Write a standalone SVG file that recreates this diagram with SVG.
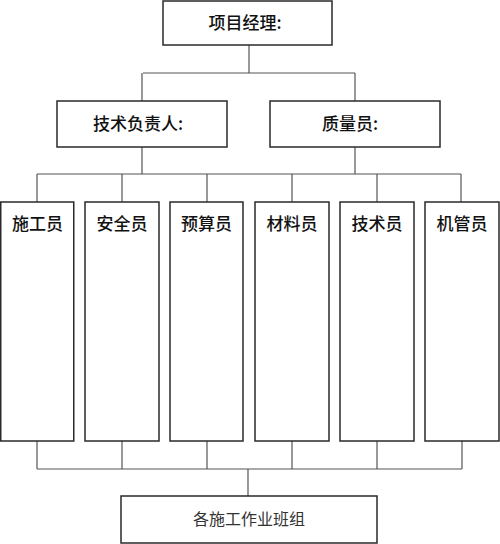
<svg xmlns="http://www.w3.org/2000/svg" width="500" height="544" viewBox="0 0 500 544">
<style>
.box{fill:#fff;stroke:#2a2a2a;stroke-width:1.5}
.conn{fill:none;stroke:#555;stroke-width:1.2}
.t{font-family:"Noto Sans CJK SC","Noto Sans",sans-serif;font-size:17px;fill:#111;text-anchor:middle;font-weight:500}
.tb{font-family:"Noto Sans CJK SC","Noto Sans",sans-serif;font-size:16px;fill:#333;text-anchor:middle;font-weight:400}
</style>
<rect width="500" height="544" fill="#fff"/>
<g id="connectors">
<path class="conn" d="M249 45V73M143 73H355M142 73V101M355 73V101"/>
<path class="conn" d="M142 147V174M355 147V174M37 174H461M37 174V202M122 174V202M207 174V202M292 174V202M377 174V202M461 174V202"/>
<path class="conn" d="M37 441V469M122 441V469M207 441V469M292 441V469M377 441V469M462 441V469M37 469H462M248 469V496"/>
</g>
<g id="pm"><rect class="box" x="163" y="1" width="169" height="44"/><text class="t" x="245" y="29">项目经理:</text></g>
<g id="tech-lead"><rect class="box" x="57" y="101" width="170" height="46"/><text class="t" x="138" y="130">技术负责人:</text></g>
<g id="quality"><rect class="box" x="270" y="101" width="170" height="46"/><text class="t" x="350" y="130">质量员:</text></g>
<g id="n1"><rect class="box" x="0.75" y="202" width="73" height="239"/><text class="t" x="37.5" y="230">施工员</text></g>
<g id="n2"><rect class="box" x="85" y="202" width="74" height="239"/><text class="t" x="122" y="230">安全员</text></g>
<g id="n3"><rect class="box" x="170" y="202" width="73" height="239"/><text class="t" x="206.5" y="230">预算员</text></g>
<g id="n4"><rect class="box" x="255" y="202" width="74" height="239"/><text class="t" x="292" y="230">材料员</text></g>
<g id="n5"><rect class="box" x="340" y="202" width="74" height="239"/><text class="t" x="377" y="230">技术员</text></g>
<g id="n6"><rect class="box" x="425" y="202" width="74" height="239"/><text class="t" x="462" y="230">机管员</text></g>
<g id="teams"><rect class="box" x="121" y="496" width="256" height="47"/><text class="tb" x="249" y="525">各施工作业班组</text></g>
</svg>
